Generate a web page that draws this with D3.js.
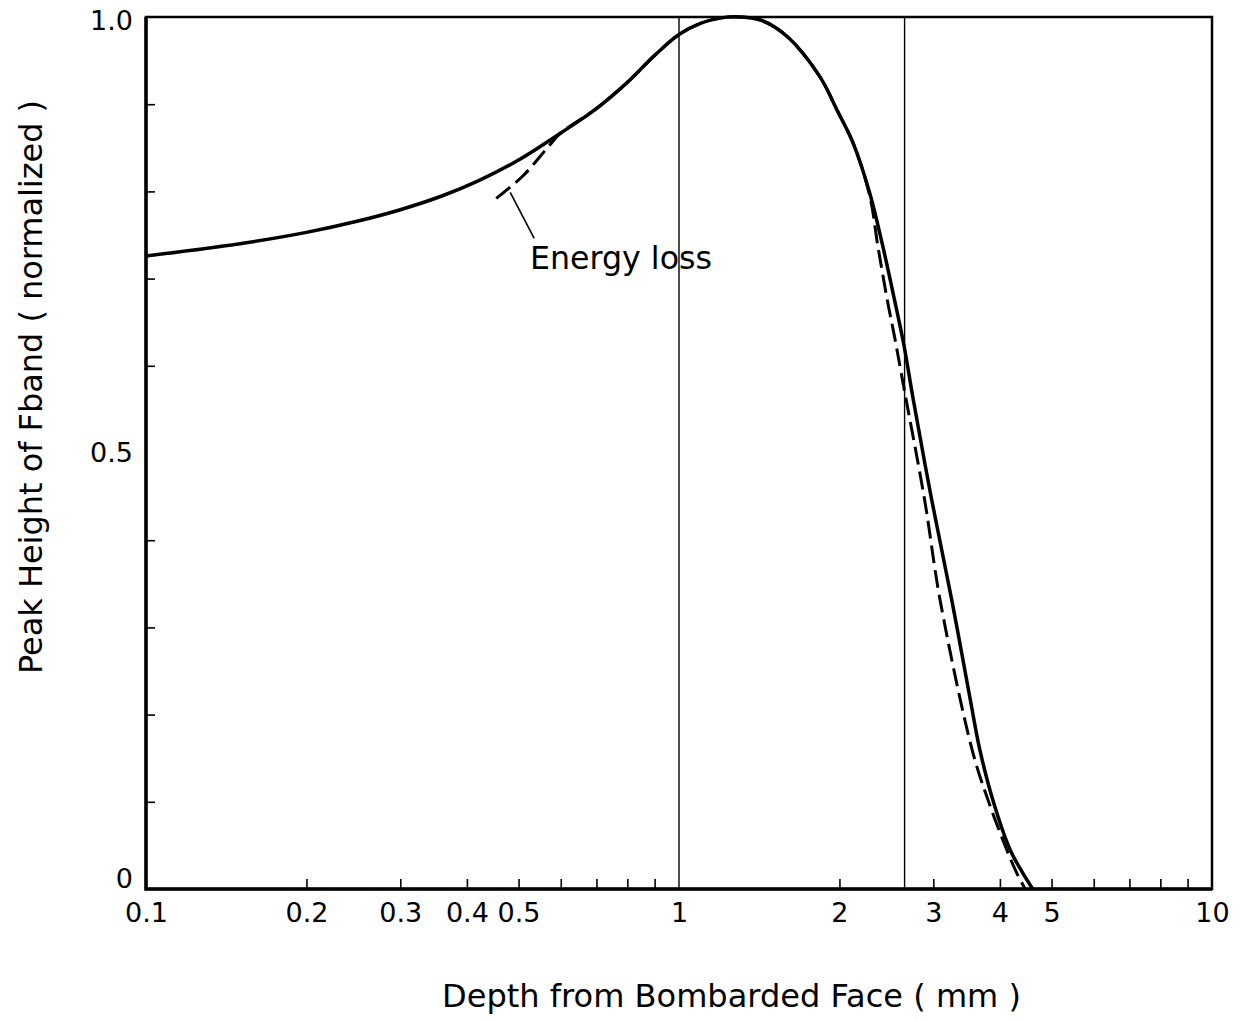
<!DOCTYPE html>
<html>
<head>
<meta charset="utf-8">
<script src="https://cdn.jsdelivr.net/npm/d3@7"></script>
<style>
  body { margin: 0; background: #fff; }
  text { font-family: "DejaVu Sans", sans-serif; fill: #000; }
</style>
</head>
<body>
<div id="chart"></div>
<script>
// Depth profile of F-band peak height (log depth axis)

// Solid curve (measured)
const solidDepth = [0.1, 0.15, 0.2, 0.25, 0.3, 0.36, 0.42, 0.5, 0.6, 0.7, 0.8, 0.9, 1.0, 1.1, 1.2, 1.3, 1.43, 1.6, 1.84, 1.98, 2.12, 2.28, 2.41, 2.52, 2.64, 2.75, 2.98, 3.25, 3.52, 3.67, 3.88, 4.18, 4.4, 4.61]
const solidHeight = [0.726, 0.740, 0.753, 0.766, 0.779, 0.795, 0.812, 0.836, 0.867, 0.895, 0.925, 0.956, 0.980, 0.993, 0.999, 1.0, 0.996, 0.977, 0.931, 0.893, 0.856, 0.798, 0.738, 0.684, 0.625, 0.562, 0.446, 0.331, 0.217, 0.159, 0.102, 0.045, 0.020, 0]

// Dashed curve (energy loss)
const lossDepth = [0.454, 0.51, 0.57, 0.6, 0.7, 0.8, 0.9, 1.0, 1.1, 1.2, 1.3, 1.43, 1.6, 1.84, 1.98, 2.12, 2.28, 2.36, 2.46, 2.54, 2.64, 2.89, 3.09, 3.55, 3.8, 4.12, 4.29, 4.46]
const lossHeight = [0.792, 0.818, 0.852, 0.867, 0.895, 0.925, 0.956, 0.980, 0.993, 0.999, 1.0, 0.996, 0.977, 0.931, 0.893, 0.856, 0.795, 0.738, 0.675, 0.632, 0.576, 0.446, 0.331, 0.159, 0.102, 0.045, 0.020, 0]

// Ticks
const xLabelTicks = [0.1, 0.2, 0.3, 0.4, 0.5, 1, 2, 3, 4, 5, 10]
const xMinorTicks = [0.2, 0.3, 0.4, 0.5, 0.6, 0.7, 0.8, 0.9, 2, 3, 4, 5, 6, 7, 8, 9]
const yLabelTicks = [0, 0.5, 1.0]
const yMinorTicks = [0.1, 0.2, 0.3, 0.4, 0.6, 0.7, 0.8, 0.9]
const refLines = [1, 2.65]

const width = 1240
const height = 1020
const plot = { left: 146, right: 1212, top: 17, bottom: 889 }

const svg = d3.select('#chart')
  .append('svg')
  .attr('width', width)
  .attr('height', height)

const x = d3.scaleLog().domain([0.1, 10]).range([plot.left, plot.right])
const y = d3.scaleLinear().domain([0, 1]).range([plot.bottom, plot.top])

// Minor ticks (inward)
svg.append('g')
  .attr('transform', `translate(0, ${plot.bottom})`)
  .call(d3.axisBottom(x).tickValues(xMinorTicks).tickSize(-10).tickFormat(''))
  .call(g => g.select('.domain').remove())
  .call(g => g.selectAll('line').attr('stroke-width', 1.6))

svg.append('g')
  .attr('transform', `translate(${plot.left}, 0)`)
  .call(d3.axisLeft(y).tickValues(yMinorTicks).tickSize(-9).tickFormat(''))
  .call(g => g.select('.domain').remove())
  .call(g => g.selectAll('line').attr('stroke-width', 1.6))

// Tick labels
svg.append('g')
  .attr('transform', `translate(0, ${plot.bottom})`)
  .call(d3.axisBottom(x).tickValues(xLabelTicks).tickSize(0).tickPadding(14)
    .tickFormat(d => d < 1 ? d.toFixed(1) : String(d)))
  .call(g => g.select('.domain').remove())
  .call(g => g.selectAll('text').attr('font-size', 27).attr('font-family', '"DejaVu Sans", sans-serif'))

svg.append('g')
  .attr('transform', `translate(${plot.left}, 0)`)
  .call(d3.axisLeft(y).tickValues(yLabelTicks).tickSize(0).tickPadding(13)
    .tickFormat(d => d === 0 ? '0' : d.toFixed(1)))
  .call(g => g.select('.domain').remove())
  .call(g => g.selectAll('text')
    .attr('font-size', 27)
    .attr('font-family', '"DejaVu Sans", sans-serif')
    .attr('dy', d => d === 0 ? '-0.05em' : d === 1 ? '0.45em' : '0.32em'))

// Reference vertical lines
svg.selectAll('line.ref')
  .data(refLines)
  .enter().append('line')
  .attr('class', 'ref')
  .attr('x1', d => x(d)).attr('x2', d => x(d))
  .attr('y1', plot.top).attr('y2', plot.bottom)
  .attr('stroke', '#000')
  .attr('stroke-width', 1.4)

// Frame
svg.append('rect')
  .attr('x', plot.left).attr('y', plot.top)
  .attr('width', plot.right - plot.left).attr('height', plot.bottom - plot.top)
  .attr('fill', 'none')
  .attr('stroke', '#000')
  .attr('stroke-width', 2.5)

svg.append('path')
  .attr('d', `M${plot.left},${plot.top} V${plot.bottom} H${plot.right}`)
  .attr('fill', 'none')
  .attr('stroke', '#000')
  .attr('stroke-width', 3.5)

// Curves
const line = d3.line()
  .x(d => x(d[0]))
  .y(d => y(d[1]))
  .curve(d3.curveCatmullRom.alpha(0.5))

svg.append('path')
  .datum(d3.zip(lossDepth, lossHeight))
  .attr('d', line)
  .attr('fill', 'none')
  .attr('stroke', '#000')
  .attr('stroke-width', 3)
  .attr('stroke-dasharray', '18,7')

svg.append('path')
  .datum(d3.zip(solidDepth, solidHeight))
  .attr('d', line)
  .attr('fill', 'none')
  .attr('stroke', '#000')
  .attr('stroke-width', 3.5)

// Energy loss annotation
const lx = x(lossDepth[0]) + 14
const ly = y(lossHeight[0]) - 6
svg.append('line')
  .attr('x1', lx).attr('y1', ly)
  .attr('x2', lx + 24).attr('y2', ly + 46)
  .attr('stroke', '#000')
  .attr('stroke-width', 1.6)

svg.append('text')
  .attr('x', 530)
  .attr('y', 269)
  .attr('font-size', 32)
  .attr('textLength', 182)
  .attr('lengthAdjust', 'spacingAndGlyphs')
  .text('Energy  loss')

// Axis titles
svg.append('text')
  .attr('x', 442)
  .attr('y', 1007)
  .attr('font-size', 32)
  .attr('textLength', 579)
  .attr('lengthAdjust', 'spacingAndGlyphs')
  .text('Depth  from  Bombarded  Face  (  mm  )')

svg.append('text')
  .attr('transform', 'translate(42, 674) rotate(-90)')
  .attr('font-size', 32)
  .attr('textLength', 574)
  .attr('lengthAdjust', 'spacingAndGlyphs')
  .text('Peak  Height  of  Fband  (  normalized  )')
</script>
</body>
</html>
